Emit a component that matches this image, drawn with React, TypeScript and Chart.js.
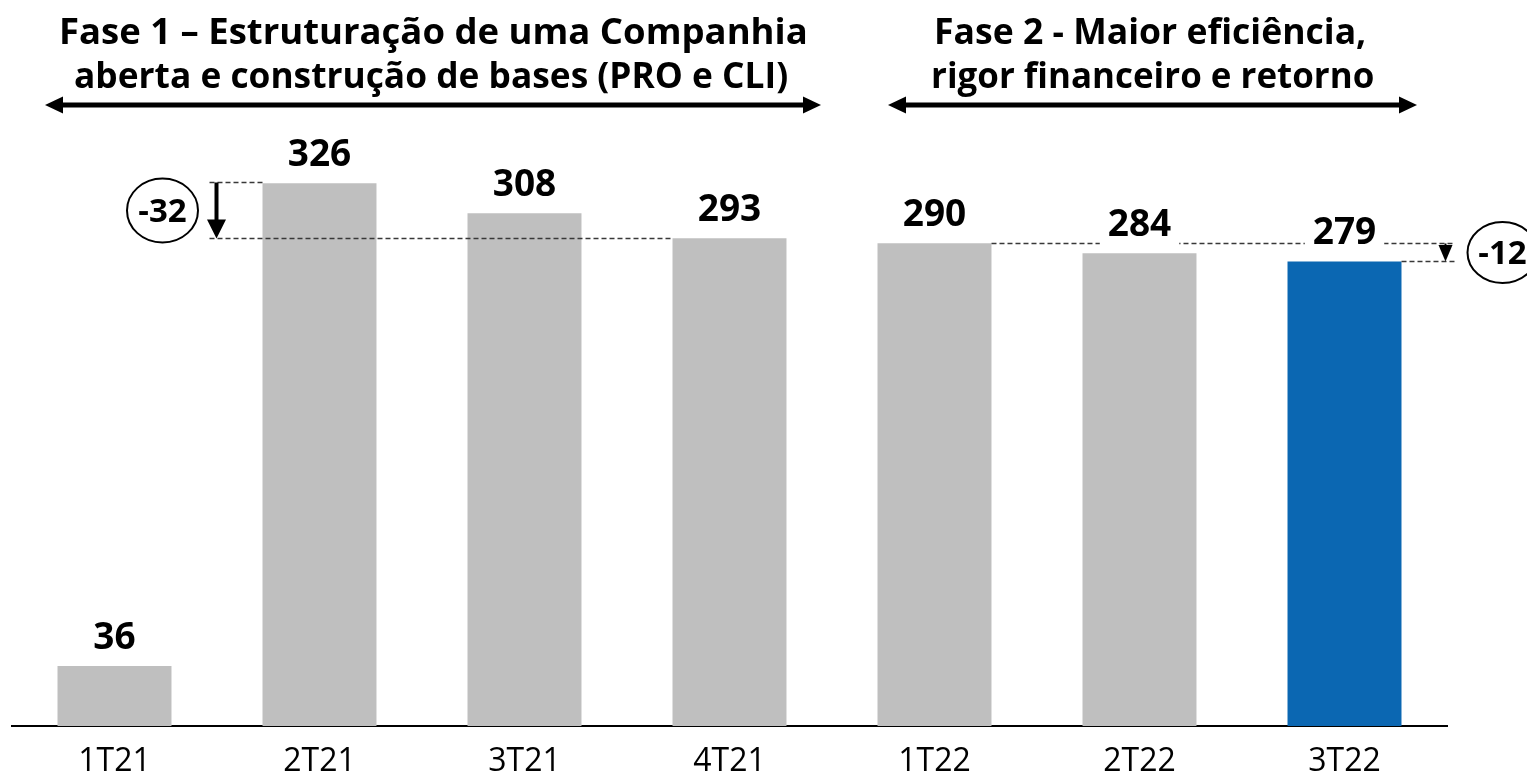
import { useEffect, useRef } from 'react';
import { Chart, registerables } from 'chart.js';

Chart.register(...registerables);

const categories = ['1T21', '2T21', '3T21', '4T21', '1T22', '2T22', '3T22'];
const values = [36, 326, 308, 293, 290, 284, 279];
const barColors = ['#BFBFBF', '#BFBFBF', '#BFBFBF', '#BFBFBF', '#BFBFBF', '#BFBFBF', '#0B67B2'];
const phase1Title = ['Fase 1 – Estruturação de uma Companhia', 'aberta e construção de bases (PRO e CLI)'];
const phase2Title = ['Fase 2 - Maior eficiência,', 'rigor financeiro e retorno'];
const deltaLabels = ['-32', '-12'];
const yMax = 400;

const FONT = '"Open Sans", "Noto Sans", sans-serif';

function fitText(ctx: CanvasRenderingContext2D, text: string, left: number, right: number, baseline: number, font: string) {
  ctx.save();
  ctx.font = font;
  ctx.textAlign = 'left';
  ctx.textBaseline = 'alphabetic';
  const m = ctx.measureText(text);
  const L = m.actualBoundingBoxLeft;
  const R = m.actualBoundingBoxRight;
  const s = (right - left) / (L + R);
  ctx.translate(left + L * s, baseline);
  ctx.scale(s, 1);
  ctx.fillStyle = '#000';
  ctx.fillText(text, 0, 0);
  ctx.restore();
}

function doubleArrow(ctx: CanvasRenderingContext2D, x1: number, x2: number, y: number) {
  const hl = 18, hh = 8.5;
  ctx.save();
  ctx.strokeStyle = '#000';
  ctx.fillStyle = '#000';
  ctx.lineWidth = 5;
  ctx.beginPath();
  ctx.moveTo(x1 + hl - 2, y);
  ctx.lineTo(x2 - hl + 2, y);
  ctx.stroke();
  ctx.beginPath();
  ctx.moveTo(x1, y);
  ctx.lineTo(x1 + hl, y - hh);
  ctx.lineTo(x1 + hl, y + hh);
  ctx.closePath();
  ctx.fill();
  ctx.beginPath();
  ctx.moveTo(x2, y);
  ctx.lineTo(x2 - hl, y - hh);
  ctx.lineTo(x2 - hl, y + hh);
  ctx.closePath();
  ctx.fill();
  ctx.restore();
}

const annotPlugin = {
  id: 'annot',
  afterDatasetsDraw(chart: any) {
    const ctx: CanvasRenderingContext2D = chart.ctx;
    const yS = chart.scales.y;
    const bars: any[] = chart.getDatasetMeta(0).data;
    const half = bars[0].width / 2;
    ctx.save();

    const line = (x1: number, x2: number, yy: number) => {
      ctx.beginPath();
      ctx.moveTo(x1, yy);
      ctx.lineTo(x2, yy);
      ctx.stroke();
    };

    // dashed guide lines
    ctx.setLineDash([5, 3]);
    ctx.strokeStyle = '#383838';
    ctx.lineWidth = 1.4;
    const b2 = bars[1], b4 = bars[3], b5 = bars[4], b7 = bars[6];
    const yTop1 = Math.round(yS.getPixelForValue(values[1])) - 0.5;
    const yBot1 = Math.round(yS.getPixelForValue(values[3])) + 0.5;
    const ax1 = b2.x - 103;
    line(ax1 - 7, b2.x - half, yTop1);
    line(ax1 - 7, b4.x - half, yBot1);
    const yTop2 = Math.round(yS.getPixelForValue(values[4])) + 0.5;
    const yBot2 = Math.round(yS.getPixelForValue(values[6])) + 0.5;
    const ax2 = b7.x + 101;
    line(b5.x + half, ax2 + 9, yTop2);
    line(b7.x + half, ax2 + 9, yBot2);
    ctx.setLineDash([]);

    // arrow 1 (down)
    ctx.strokeStyle = '#000';
    ctx.fillStyle = '#000';
    ctx.lineWidth = 4;
    ctx.beginPath();
    ctx.moveTo(ax1, yTop1);
    ctx.lineTo(ax1, yBot1 - 16);
    ctx.stroke();
    ctx.beginPath();
    ctx.moveTo(ax1 - 9.5, yBot1 - 19);
    ctx.lineTo(ax1 + 9.5, yBot1 - 19);
    ctx.lineTo(ax1, yBot1);
    ctx.closePath();
    ctx.fill();

    // arrow 2 (small down)
    ctx.lineWidth = 2;
    ctx.beginPath();
    ctx.moveTo(ax2, yTop2);
    ctx.lineTo(ax2, yTop2 + 3);
    ctx.stroke();
    ctx.beginPath();
    ctx.moveTo(ax2 - 7, yTop2 + 1.5);
    ctx.lineTo(ax2 + 7, yTop2 + 1.5);
    ctx.lineTo(ax2, yBot2);
    ctx.closePath();
    ctx.fill();

    // value labels with white background
    ctx.font = `bold 37px ${FONT}`;
    ctx.textAlign = 'center';
    ctx.textBaseline = 'alphabetic';
    bars.forEach((b, i) => {
      const txt = String(values[i]);
      const base = b.y - 17;
      const w = ctx.measureText(txt).width;
      ctx.fillStyle = '#fff';
      ctx.fillRect(b.x - w / 2 - 8, base - 28, w + 16, 37);
      ctx.fillStyle = '#000';
      ctx.fillText(txt, b.x, base);
    });

    // delta ellipses
    const ell = (cx: number, cy: number, rx: number, ry: number, txt: string) => {
      ctx.beginPath();
      ctx.ellipse(cx, cy, rx, ry, 0, 0, Math.PI * 2);
      ctx.fillStyle = '#fff';
      ctx.fill();
      ctx.lineWidth = 2;
      ctx.strokeStyle = '#000';
      ctx.stroke();
      ctx.fillStyle = '#000';
      ctx.font = `bold 33px ${FONT}`;
      ctx.textAlign = 'center';
      ctx.fillText(txt, cx, cy + 11.5);
    };
    ell(b2.x - 157, (yTop1 + yBot1) / 2, 35.5, 32, deltaLabels[0]);
    ell(b7.x + 158, (yTop2 + yBot2) / 2, 35, 30.5, deltaLabels[1]);

    ctx.restore();
  },
  afterDraw(chart: any) {
    const ctx: CanvasRenderingContext2D = chart.ctx;
    const tf = `bold 36px ${FONT}`;
    fitText(ctx, phase1Title[0], 62, 806, 44, tf);
    fitText(ctx, phase1Title[1], 75, 787, 88, tf);
    fitText(ctx, phase2Title[0], 937, 1365, 44, tf);
    fitText(ctx, phase2Title[1], 933, 1373, 88, tf);
    doubleArrow(ctx, 45, 821, 105);
    doubleArrow(ctx, 888, 1417, 105);
  },
};

export default function App() {
  const ref = useRef<HTMLCanvasElement | null>(null);
  useEffect(() => {
    if (!ref.current) return;
    const chart = new Chart(ref.current, {
      type: 'bar',
      data: {
        labels: categories,
        datasets: [
          {
            data: values,
            backgroundColor: barColors,
            borderWidth: 0,
            categoryPercentage: 1,
            barPercentage: 0.556,
          },
        ],
      },
      options: {
        animation: false,
        responsive: false,
        devicePixelRatio: 1,
        layout: { padding: { left: 12, right: 80, top: 60, bottom: 0 } },
        plugins: { legend: { display: false }, tooltip: { enabled: false } },
        scales: {
          x: {
            grid: { display: false, drawTicks: false },
            border: { display: true, color: '#000', width: 2 },
            ticks: { color: '#000', font: { family: FONT, size: 32 }, padding: 17 },
            afterFit: (s: any) => {
              s.height = 51;
            },
          },
          y: { display: false, min: 0, max: yMax },
        },
      },
      plugins: [annotPlugin],
    } as any);
    return () => chart.destroy();
  }, []);
  return (
    <div style={{ position: 'absolute', left: 0, top: 0, width: 1527, height: 777, background: '#fff' }}>
      <canvas ref={ref} width={1527} height={777} />
    </div>
  );
}
